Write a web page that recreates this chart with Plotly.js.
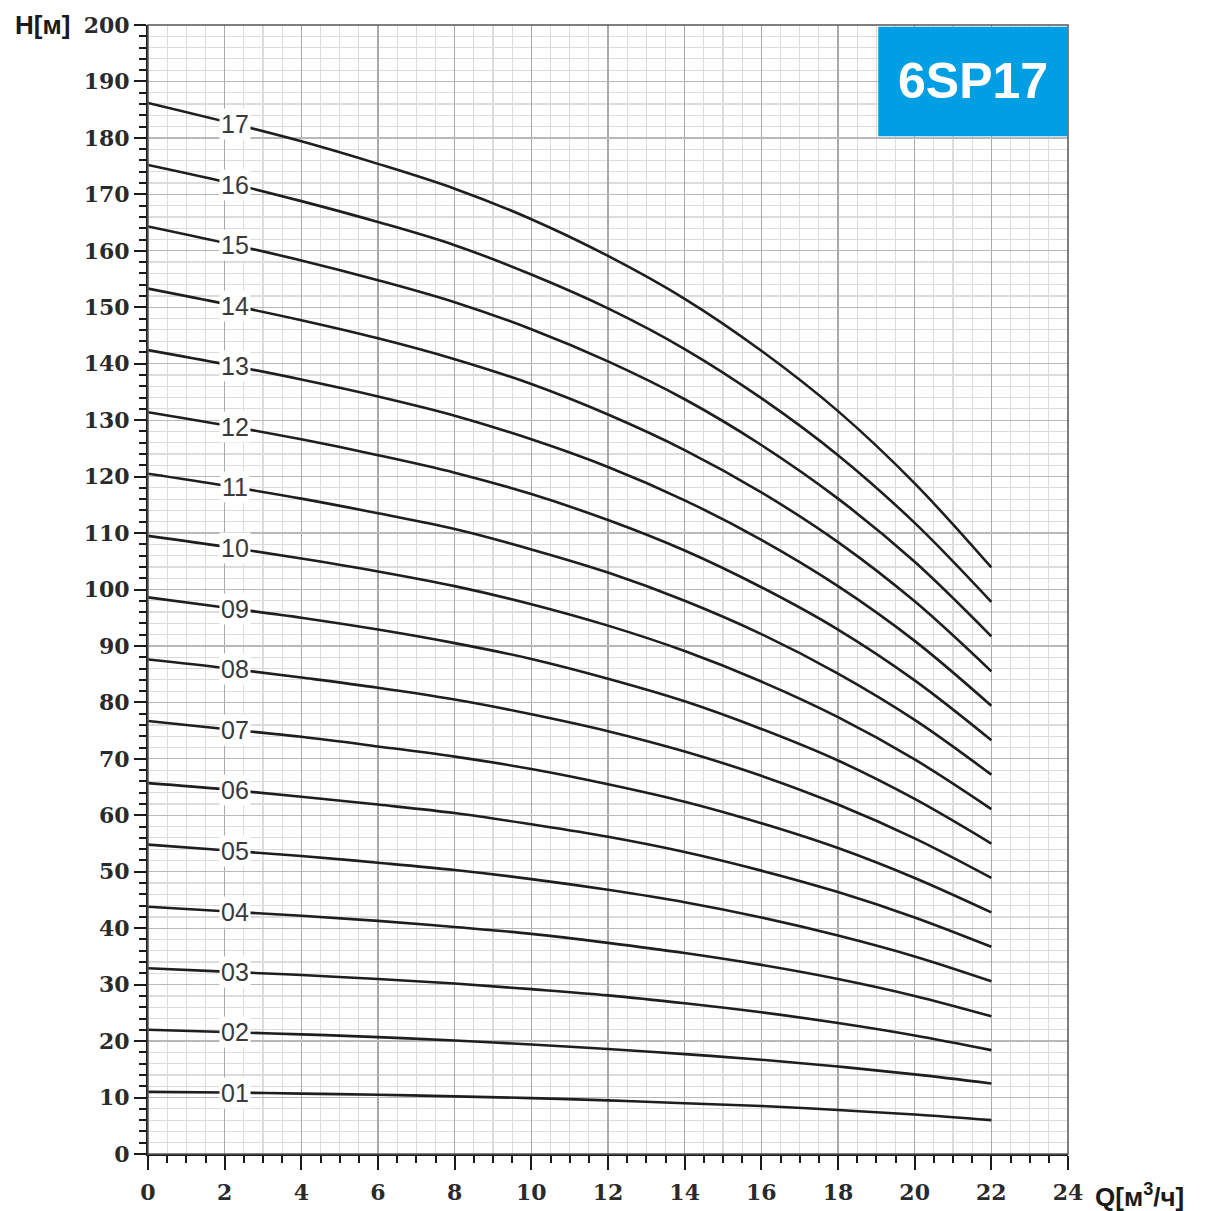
<!DOCTYPE html>
<html>
<head>
<meta charset="utf-8">
<script src="https://cdn.plot.ly/plotly-3.0.1.min.js"></script>
<style>html,body{margin:0;padding:0;background:#fff;}#chart{width:1224px;height:1211px;}</style>
</head>
<body>
<div id="chart"></div>
<script>
// Flow rate Q [m3/h]
const flow = [0, 2, 4, 6, 8, 10, 12, 14, 16, 18, 20, 22];
// Stage labels
const stageLabels = ["01","02","03","04","05","06","07","08","09","10","11","12","13","14","15","16","17"];
// Head H [m] per stage count
const head01 = [11.0, 10.9, 10.7, 10.5, 10.2, 9.9, 9.5, 9.0, 8.5, 7.8, 7.0, 6.0];
const head02 = [22.0, 21.6, 21.2, 20.7, 20.1, 19.4, 18.6, 17.7, 16.7, 15.5, 14.1, 12.5];
const head03 = [32.9, 32.3, 31.7, 31.0, 30.2, 29.2, 28.1, 26.7, 25.1, 23.2, 21.0, 18.4];
const head04 = [43.8, 43.0, 42.2, 41.3, 40.2, 39.0, 37.4, 35.6, 33.5, 31.0, 28.0, 24.4];
const head05 = [54.8, 53.8, 52.8, 51.6, 50.3, 48.7, 46.8, 44.6, 41.9, 38.7, 35.0, 30.6];
const head06 = [65.7, 64.6, 63.3, 61.9, 60.4, 58.4, 56.2, 53.5, 50.2, 46.4, 41.9, 36.7];
const head07 = [76.7, 75.3, 73.9, 72.2, 70.4, 68.2, 65.5, 62.4, 58.6, 54.2, 48.9, 42.8];
const head08 = [87.6, 86.1, 84.4, 82.6, 80.5, 77.9, 74.9, 71.3, 67.0, 61.9, 55.9, 48.9];
const head09 = [98.6, 96.8, 95.0, 92.9, 90.5, 87.7, 84.2, 80.2, 75.3, 69.7, 62.9, 55.0];
const head10 = [109.5, 107.6, 105.5, 103.2, 100.6, 97.4, 93.6, 89.1, 83.7, 77.4, 69.9, 61.1];
const head11 = [120.5, 118.4, 116.1, 113.5, 110.7, 107.1, 103.0, 98.0, 92.1, 85.1, 76.9, 67.2];
const head12 = [131.4, 129.1, 126.6, 123.8, 120.7, 116.9, 112.3, 106.9, 100.4, 92.9, 83.9, 73.3];
const head13 = [142.4, 139.9, 137.2, 134.2, 130.8, 126.6, 121.7, 115.8, 108.8, 100.6, 90.9, 79.4];
const head14 = [153.3, 150.6, 147.7, 144.5, 140.8, 136.4, 131.0, 124.7, 117.2, 108.4, 97.9, 85.5];
const head15 = [164.3, 161.4, 158.3, 154.8, 150.9, 146.1, 140.4, 133.7, 125.6, 116.1, 104.9, 91.7];
const head16 = [175.2, 172.2, 168.8, 165.1, 161.0, 155.8, 149.8, 142.6, 133.9, 123.8, 111.8, 97.8];
const head17 = [186.2, 182.9, 179.4, 175.4, 171.0, 165.6, 159.1, 151.5, 142.3, 131.6, 118.8, 103.9];
const heads = [head01, head02, head03, head04, head05, head06, head07, head08, head09, head10,
               head11, head12, head13, head14, head15, head16, head17];
const modelName = "6SP17";
const labelQ = 2.27;

function interp(xs, ys, x) {
  for (let i = 0; i < xs.length - 1; i++) {
    if (x >= xs[i] && x <= xs[i + 1]) {
      const t = (x - xs[i]) / (xs[i + 1] - xs[i]);
      return ys[i] + t * (ys[i + 1] - ys[i]);
    }
  }
  return ys[ys.length - 1];
}

const traces = heads.map((h, i) => ({
  x: flow, y: h, type: 'scatter', mode: 'lines',
  line: {color: '#1e1e1e', width: 2.6, shape: 'spline', smoothing: 1},
  name: stageLabels[i], showlegend: false, hoverinfo: 'skip'
}));

const annotations = heads.map((h, i) => ({
  x: labelQ, y: interp(flow, h, labelQ), xref: 'x', yref: 'y',
  text: stageLabels[i], showarrow: false,
  font: {family: 'Liberation Sans, Arial, sans-serif', size: 25, color: '#3a3a3a'},
  bgcolor: '#ffffff', borderpad: 1, xanchor: 'center', yanchor: 'middle'
}));

annotations.push({
  x: 21.52, y: 190, xref: 'x', yref: 'y', text: '<b>' + modelName + '</b>', showarrow: false,
  font: {family: 'Liberation Sans, Arial, sans-serif', size: 50, color: '#ffffff'},
  xanchor: 'center', yanchor: 'middle'
});
annotations.push({
  x: 0, y: 1, xref: 'paper', yref: 'paper', xshift: -76, yshift: 0,
  text: '<b>H[м]</b>', showarrow: false, xanchor: 'right', yanchor: 'middle',
  font: {family: 'Liberation Sans, Arial, sans-serif', size: 26, color: '#1a1a1a'}
});
annotations.push({
  x: 1, y: 0, xref: 'paper', yref: 'paper', xshift: 25, yshift: -41,
  text: '<b>Q[м<sup>3</sup>/ч]</b>', showarrow: false, xanchor: 'left', yanchor: 'middle',
  font: {family: 'Liberation Sans, Arial, sans-serif', size: 26, color: '#1a1a1a'}
});

const tickFont = {family: 'DejaVu Serif, serif', size: 22, color: '#2a2a2a', weight: 'bold'};

const layout = {
  width: 1224, height: 1211,
  margin: {l: 148, r: 156, t: 25, b: 57, pad: 0},
  paper_bgcolor: '#ffffff', plot_bgcolor: '#ffffff',
  showlegend: false,
  xaxis: {
    range: [0, 24], dtick: 2, tick0: 0, ticks: 'outside', ticklen: 14, tickwidth: 2, tickcolor: '#1a1a1a',
    showline: true, linecolor: '#1a1a1a', linewidth: 2, ticklabelstandoff: 4,
    showgrid: true, gridcolor: '#a8a8a8', gridwidth: 1.2, zeroline: false,
    tickfont: tickFont,
    minor: {dtick: 0.5, ticks: 'outside', ticklen: 7, tickwidth: 2, tickcolor: '#1a1a1a',
            showgrid: true, gridcolor: '#dcdcdc', gridwidth: 1.2},
    fixedrange: true
  },
  yaxis: {
    range: [0, 200], dtick: 10, tick0: 0, ticks: 'outside', ticklen: 12, tickwidth: 2, tickcolor: '#1a1a1a',
    showline: true, linecolor: '#1a1a1a', linewidth: 2,
    showgrid: true, gridcolor: '#b8b8b8', gridwidth: 1.2, zeroline: false,
    tickfont: tickFont,
    minor: {dtick: 2, ticks: 'outside', ticklen: 7, tickwidth: 2, tickcolor: '#1a1a1a',
            showgrid: true, gridcolor: '#dcdcdc', gridwidth: 1.2},
    fixedrange: true
  },
  shapes: [
    {type: 'rect', xref: 'paper', yref: 'paper', x0: 0, x1: 1, y0: 0, y1: 1,
     line: {color: '#555555', width: 1.5}, fillcolor: 'rgba(0,0,0,0)', layer: 'above'},
    {type: 'rect', xref: 'x', yref: 'y', x0: 19.05, x1: 24, y0: 180.3, y1: 199.7,
     line: {width: 0}, fillcolor: '#009fe3', layer: 'above'}
  ],
  annotations: annotations
};

Plotly.newPlot('chart', traces, layout, {staticPlot: true, displayModeBar: false});
</script>
</body>
</html>
